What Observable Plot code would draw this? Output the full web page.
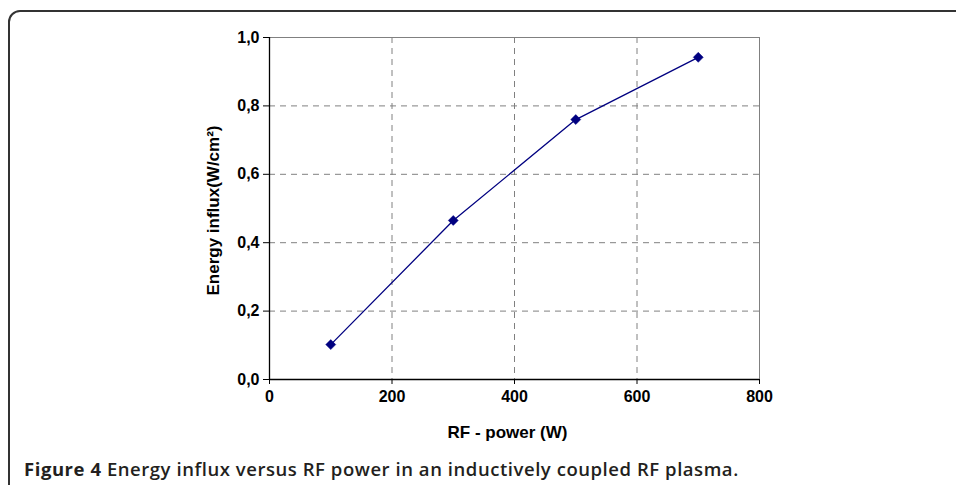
<!DOCTYPE html>
<html>
<head>
<meta charset="utf-8">
<script src="https://cdn.jsdelivr.net/npm/d3@7"></script>
<script src="https://cdn.jsdelivr.net/npm/@observablehq/plot@0.6"></script>
<style>
  html, body { margin: 0; padding: 0; width: 956px; height: 485px; overflow: hidden; background: #fff; }
  #frame { position: absolute; left: 8px; top: 10px; width: 1000px; height: 520px;
           border: 2px solid #333; border-top-left-radius: 12px; box-sizing: border-box; }
  #chart { position: absolute; left: 0; top: 0; }
  #caption { position: absolute; left: 24px; top: 456px; font-family: "Open Sans", sans-serif;
             font-size: 18.5px; letter-spacing: 0.55px; line-height: normal; font-weight: 600; color: #231f20; white-space: nowrap; }
  #caption b { font-weight: 700; }
</style>
</head>
<body>
<div id="frame"></div>
<div id="chart"></div>
<div id="caption"><b>Figure 4</b> Energy influx versus RF power in an inductively coupled RF plasma.</div>
<script>
const rfPower = [100, 300, 500, 700];
const energyInflux = [0.102, 0.465, 0.760, 0.942];
const xTicks = [0, 200, 400, 600, 800];
const yTicks = [0, 0.2, 0.4, 0.6, 0.8, 1.0];
const xLabel = "RF - power (W)";
const yLabel = "Energy influx(W/cm²)";

const data = rfPower.map((p, i) => ({p, e: energyInflux[i]}));
const fmt = v => v.toFixed(1).replace(".", ",");

const chart = Plot.plot({
  width: 956,
  height: 450,
  marginLeft: 269,
  marginRight: 197,
  marginTop: 37,
  marginBottom: 71,
  style: {fontFamily: "'Liberation Sans', Arial, sans-serif", fontSize: "16px", fontWeight: "bold", color: "#000", background: "transparent"},
  x: {domain: [0, 800]},
  y: {domain: [0, 1]},
  marks: [
    Plot.gridX(xTicks.filter(d => d > 0 && d < 800), {stroke: "#808080", strokeOpacity: 1, strokeDasharray: "6,5", strokeWidth: 1}),
    Plot.gridY(yTicks.filter(d => d > 0 && d < 1), {stroke: "#808080", strokeOpacity: 1, strokeDasharray: "6,5", strokeWidth: 1}),
    Plot.ruleY([1], {stroke: "#808080", strokeWidth: 1}),
    Plot.ruleX([800], {stroke: "#808080", strokeWidth: 1}),
    Plot.axisX({ticks: xTicks, tickSize: 5, tickPadding: 6, label: null, stroke: "#000", fontSize: 16}),
    Plot.axisY({ticks: yTicks, tickSize: 6, tickPadding: 4, tickFormat: fmt, label: null, stroke: "#000", fontSize: 16}),
    Plot.ruleY([0], {stroke: "#000", strokeWidth: 1.3}),
    Plot.ruleX([0], {stroke: "#000", strokeWidth: 1.3}),
    Plot.line(data, {x: "p", y: "e", stroke: "#000080", strokeWidth: 1.3}),
    Plot.dot(data, {x: "p", y: "e", symbol: "diamond2", r: 4.5, fill: "#000080", stroke: "#000080", strokeWidth: 0.5}),
    Plot.text([xLabel], {frameAnchor: "bottom", dx: -7, dy: 58, text: d => d, fontSize: 17, fontWeight: "bold"}),
    Plot.text([yLabel], {frameAnchor: "left", textAnchor: "middle", dx: -56, dy: 2, rotate: -90, text: d => d, fontSize: 17, fontWeight: "bold"})
  ]
});
document.getElementById("chart").appendChild(chart);
</script>
</body>
</html>
